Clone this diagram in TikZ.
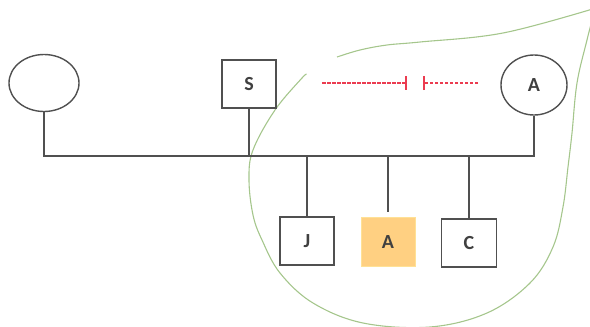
\documentclass[tikz,border=0pt]{standalone}
\usepackage{fontspec}
\setmainfont{Carlito}
\usetikzlibrary{shapes.geometric,arrows.meta}
\definecolor{lineg}{RGB}{80,80,80}
\definecolor{leafg}{RGB}{165,198,140}
\definecolor{redd}{RGB}{235,60,80}
\definecolor{orfill}{RGB}{255,208,130}
\definecolor{ordraw}{RGB}{255,225,150}
\tikzset{
  person/.style={draw=lineg, line width=1.4pt, minimum width=54pt, minimum height=48pt, inner sep=0pt, font=\fontsize{20}{20}\selectfont\bfseries, text=black!75},
  female/.style={person, ellipse},
  rel/.style={draw=lineg, line width=1.4pt},
  leaf/.style={draw=leafg, line width=1.1pt},
  cut/.style={draw=redd, line width=1.2pt, dash pattern=on 3.5pt off 1.5pt},
}
\begin{document}
\begin{tikzpicture}[x=1pt,y=-1pt]
\useasboundingbox (0,0) rectangle (590,327);
% leaf outline
\draw[leaf] plot[smooth, tension=0.6] coordinates {(306,75) (302,78) (275,110) (253,150) (249,180) (253,215) (262,240) (280,273) (313,303) (363,323) (430,327) (487,313) (530,283) (553,247) (563,207) (568,167) (572,133) (577,83) (587,40) (596,5)};
\draw[leaf] plot[smooth, tension=0.6] coordinates {(337,57) (360,50) (387,45) (420,42) (503,33) (596,8)};
% people
\node[female, minimum width=70pt, minimum height=57pt] (m) at (44,83) {};
\node[person] (s) at (249,84) {S};
\node[female, minimum width=66pt, minimum height=60pt] (a) at (534,85) {A};
\node[person] (j) at (307,241) {J};
\node[person, draw=ordraw, fill=orfill, line width=1pt, minimum height=49pt] (ac) at (388,242) {A};
\node[person, minimum width=55pt] (c) at (469,243) {C};
\coordinate (bar) at (0,156);
% relationship lines
\draw[rel] (m.south) -- (m.south |- bar) -- (a.south |- bar) -- (a.south);
\draw[rel] (s.south) -- (s.south |- bar);
\draw[rel] (j.north |- bar) -- (j.north);
\draw[rel] (ac.north |- bar) -- ([yshift=5pt]ac.north);
\draw[rel] (c.north |- bar) -- (c.north);
% cut-off
\coordinate (r1) at (322,83);
\coordinate (r2) at (407,83);
\coordinate (r3) at (423,83);
\coordinate (r4) at (478,83);
\draw[cut, -{Bar[width=14pt,line width=1.6pt]}] (r1) -- (r2);
\draw[cut, -{Bar[width=14pt,line width=1.6pt]}] (r4) -- (r3);
\end{tikzpicture}
\end{document}
